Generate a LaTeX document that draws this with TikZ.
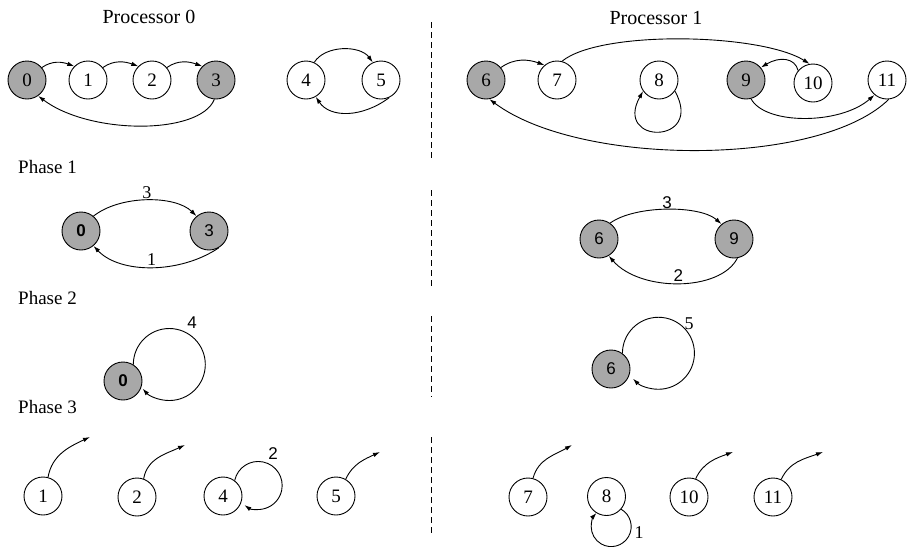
\documentclass[tikz,border=0pt]{standalone}
\usepackage{fontspec}
\setmainfont{Liberation Serif}
\newfontfamily\lsans{Liberation Sans}
\usetikzlibrary{arrows.meta}
\definecolor{nodegray}{RGB}{168,168,168}
\tikzset{
  wnode/.style={circle,draw=black,line width=0.9pt,fill=white,minimum size=38pt,inner sep=0pt,font=\fontsize{19}{22}\selectfont},
  gnode/.style={wnode,fill=nodegray},
  sfn/.style={font=\lsans\fontsize{17}{20}\selectfont},
  arr/.style={line width=0.9pt,-{Latex[length=7pt,width=4.5pt]}},
  lab/.style={inner sep=1pt,font=\fontsize{18}{21}\selectfont},
  title/.style={inner sep=0pt,font=\fontsize{20}{23}\selectfont},
  phase/.style={inner sep=0pt,font=\fontsize{19}{22}\selectfont},
  sep/.style={line width=0.9pt,dash pattern=on 6pt off 4pt}
}
\begin{document}
\begin{tikzpicture}[x=1pt,y=1pt]
\useasboundingbox[fill=white] (0,0) rectangle (907,-547);
% titles
\node[title] (t0) at (149,-17) {Processor 0};
\node[title] (t1) at (656,-18) {Processor 1};
\node[phase,anchor=west] (ph1) at (18,-167) {Phase 1};
\node[phase,anchor=west] (ph2) at (18,-298) {Phase 2};
\node[phase,anchor=west] (ph3) at (18,-407) {Phase 3};
% separators
\coordinate (d1a) at (431,-22); \coordinate (d1b) at (431,-158);
\coordinate (d2a) at (431,-190); \coordinate (d2b) at (431,-288);
\coordinate (d3a) at (431,-316); \coordinate (d3b) at (431,-397);
\coordinate (d4a) at (431,-437); \coordinate (d4b) at (431,-534);
\draw[sep] (d1a) -- (d1b);
\draw[sep] (d2a) -- (d2b);
\draw[sep] (d3a) -- (d3b);
\draw[sep] (d4a) -- (d4b);
% row 1 left
\node[gnode] (a0) at (27,-80) {0};
\node[wnode] (a1) at (88,-80) {1};
\node[wnode] (a2) at (152,-80) {2};
\node[gnode] (a3) at (216,-80) {3};
\node[wnode] (a4) at (306,-80) {4};
\node[wnode] (a5) at (381,-80) {5};
\draw[arr] (a0.40) to[out=35,in=160] (a1.135);
\draw[arr] (a1.40) to[out=35,in=160] (a2.135);
\draw[arr] (a2.40) to[out=35,in=160] (a3.135);
\draw[arr] (a3.-95) .. controls (200,-135) and (90,-135) .. (a0.-55);
\draw[arr] (a4.65) .. controls (325,-45) and (360,-45) .. (a5.115);
\draw[arr] (a5.-65) .. controls (362,-118) and (330,-118) .. (a4.-60);
% row 1 right
\node[gnode] (b6) at (486,-80) {6};
\node[wnode] (b7) at (557,-80) {7};
\node[wnode] (b8) at (659,-80) {8};
\node[gnode] (b9) at (746,-80) {9};
\node[wnode] (b10) at (813,-83) {10};
\node[wnode] (b11) at (887,-80) {11};
\draw[arr] (b6.40) to[out=35,in=160] (b7.130);
\draw[arr] (b7.75) .. controls (600,-30) and (760,-33) .. (b10.100);
\draw[arr] (b10.140) .. controls (795,-58) and (780,-56) .. (b9.40);
\draw[arr] (b9.-75) .. controls (765,-125) and (840,-125) .. (b11.-130);
\draw[arr] (b11.-85) .. controls (820,-167) and (580,-167) .. (b6.-80);
\draw[arr] (b8.-35) .. controls (705,-145) and (613,-145) .. (b8.-145);
% phase 1
\node[gnode,sfn] (p0) at (81,-231) {\textbf{0}};
\node[gnode,sfn] (p3) at (209,-231) {3};
\draw[arr] (p0.50) .. controls (120,-195) and (175,-195) .. node[lab,above] (l3) {3} (p3.130);
\draw[arr] (p3.-60) .. controls (180,-274) and (120,-274) .. node[lab,above] (l1) {1} (p0.-50);
\node[gnode,sfn] (q6) at (599,-239) {6};
\node[gnode,sfn] (q9) at (734,-239) {9};
\draw[arr] (q6.55) .. controls (635,-205) and (700,-205) .. node[lab,sfn,above] (l3b) {3} (q9.130);
\draw[arr] (q9.-80) .. controls (720,-292) and (640,-292) .. node[lab,sfn,above] (l2b) {2} (q6.-60);
% phase 2
\node[gnode,sfn] (r0) at (123,-381) {\textbf{0}};
\draw[arr] (r0.58) arc[start angle=180,end angle=-138,radius=36];
\node[lab,sfn] (l4) at (192,-323) {4};
\node[gnode,sfn] (s6) at (611,-369) {6};
\draw[arr] (s6.54) arc[start angle=180,end angle=-135,radius=36];
\node[lab] (l5) at (689,-324) {5};
% phase 3 left
\node[wnode] (t1n) at (43,-496) {1};
\node[wnode] (t2n) at (137,-497) {2};
\node[wnode] (t4n) at (223,-496) {4};
\node[wnode] (t5n) at (336,-496) {5};
\coordinate (e1) at (90,-437);
\coordinate (e2) at (185,-445);
\coordinate (e5) at (380,-452);
\draw[arr] (t1n.75) to[out=80,in=-155] (e1);
\draw[arr] (t2n.70) to[out=80,in=-155] (e2);
\draw[arr] (t5n.60) to[out=65,in=-155] (e5);
\draw[arr] (t4n.53) arc[start angle=168,end angle=-125,radius=24];
\node[lab,sfn] (l2) at (273,-454) {2};
% phase 3 right
\node[wnode] (u7) at (528,-497) {7};
\node[wnode] (u8) at (606.5,-496.5) {8};
\node[wnode] (u10) at (689,-497) {10};
\node[wnode] (u11) at (773,-497) {11};
\coordinate (e7) at (572,-445);
\coordinate (e10) at (733,-452);
\coordinate (e11) at (823,-452);
\draw[arr] (u7.75) to[out=75,in=-150] (e7);
\draw[arr] (u10.70) to[out=65,in=-160] (e10);
\draw[arr] (u11.65) to[out=65,in=-160] (e11);
\draw[arr] (u8.-41) arc[start angle=60,end angle=-223,radius=20];
\node[lab] (l1b) at (639,-533) {1};
\end{tikzpicture}
\end{document}
